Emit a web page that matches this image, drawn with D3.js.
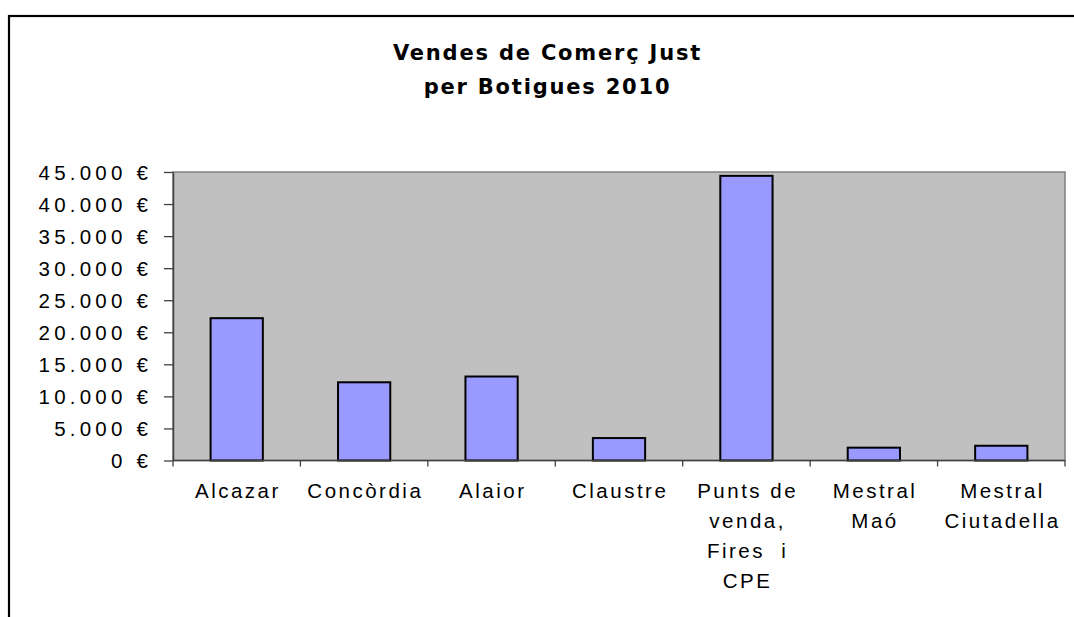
<!DOCTYPE html>
<html>
<head>
<meta charset="utf-8">
<script src="https://cdn.jsdelivr.net/npm/d3@7"></script>
<style>
  body { margin: 0; background: #fff; }
  svg { display: block; }
  .title { font-family: "Comic Sans MS", "DejaVu Sans", sans-serif; font-weight: bold; font-size: 21px; letter-spacing: 1.8px; }
  .ylab { font-family: "Liberation Sans", Arial, sans-serif; font-size: 20.5px; letter-spacing: 4.2px; }
  .xlab { font-family: "Liberation Sans", Arial, sans-serif; font-size: 20.5px; letter-spacing: 2.5px; white-space: pre; }
</style>
</head>
<body>
<svg id="chart" width="1074" height="617"></svg>
<script>
// data
var titleLines = ["Vendes de Comerç Just", "per Botigues 2010"];
var categories = ["Alcazar", "Concòrdia", "Alaior", "Claustre", "Punts de venda, Fires i CPE", "Mestral Maó", "Mestral Ciutadella"];
var labelLines = [["Alcazar"], ["Concòrdia"], ["Alaior"], ["Claustre"], ["Punts de", "venda,", "Fires  i", "CPE"], ["Mestral", "Maó"], ["Mestral", "Ciutadella"]];
var sales = [22200, 12200, 13100, 3500, 44400, 2000, 2300];
var yTicks = [0, 5000, 10000, 15000, 20000, 25000, 30000, 35000, 40000, 45000];

var svg = d3.select("#chart");
var plot = {left: 173, right: 1065, top: 172, bottom: 460.5};

// outer frame (runs off the right and bottom of the picture)
svg.append("rect")
    .attr("x", 9).attr("y", 16)
    .attr("width", 1200).attr("height", 800)
    .style("fill", "none")
    .style("stroke", "#000")
    .style("stroke-width", 2.2);

// title
svg.append("g").selectAll("text")
    .data(titleLines).enter()
    .append("text")
    .attr("class", "title")
    .attr("x", 547.5)
    .attr("y", function(d, i) { return 60 + i * 34; })
    .style("text-anchor", "middle")
    .text(function(d) { return d; });

var y = d3.scaleLinear()
    .domain([0, 45000])
    .range([plot.bottom, plot.top]);

// outer band for axis ticks and labels, inner band for the bars
var xCat = d3.scaleBand()
    .domain(categories)
    .range([plot.left, plot.right])
    .padding(0);

var xBar = d3.scaleBand()
    .domain(categories)
    .range([plot.left, plot.right])
    .paddingInner(0.59)
    .paddingOuter(0.295);

// plot area
svg.append("rect")
    .attr("x", plot.left).attr("y", plot.top)
    .attr("width", plot.right - plot.left)
    .attr("height", plot.bottom - plot.top)
    .style("fill", "#c0c0c0")
    .style("stroke", "#808080")
    .style("stroke-width", 1.5);

// bars
svg.append("g").selectAll("rect")
    .data(sales).enter()
    .append("rect")
    .attr("x", function(d, i) { return xBar(categories[i]); })
    .attr("y", function(d) { return y(d); })
    .attr("width", xBar.bandwidth())
    .attr("height", function(d) { return y(0) - y(d); })
    .style("fill", "#9999ff")
    .style("stroke", "#000")
    .style("stroke-width", 2);

// y axis
var yAxis = svg.append("g")
    .attr("transform", "translate(" + plot.left + ",0)")
    .call(d3.axisLeft(y).tickValues(yTicks).tickSize(9).tickSizeOuter(0)
        .tickFormat(function(d) { return d3.format(",")(d).replace(/,/g, ".") + " €"; }));
yAxis.attr("font-size", null).attr("font-family", null);
yAxis.select(".domain").style("stroke", "#404040").style("stroke-width", 1.5);
yAxis.selectAll(".tick line").style("stroke", "#404040").style("stroke-width", 1.3);
yAxis.selectAll(".tick text")
    .attr("class", "ylab")
    .attr("x", -21)
    .attr("dy", "0.36em")
    .style("fill", "#000");

// x axis line and boundary ticks
var xg = svg.append("g");
xg.append("line")
    .attr("x1", plot.left).attr("x2", plot.right)
    .attr("y1", plot.bottom).attr("y2", plot.bottom)
    .style("stroke", "#404040").style("stroke-width", 1.5);
var bounds = categories.map(function(c) { return xCat(c); }).concat([plot.right]);
xg.selectAll("line.tick")
    .data(bounds).enter()
    .append("line")
    .attr("class", "tick")
    .attr("x1", function(d) { return d; }).attr("x2", function(d) { return d; })
    .attr("y1", plot.bottom).attr("y2", plot.bottom + 6)
    .style("stroke", "#404040").style("stroke-width", 1.3);

// category labels
var lab = svg.append("g").selectAll("text")
    .data(categories).enter()
    .append("text")
    .attr("class", "xlab")
    .attr("y", 498)
    .style("text-anchor", "middle");
lab.each(function(d, i) {
    d3.select(this).selectAll("tspan")
        .data(labelLines[i]).enter()
        .append("tspan")
        .attr("x", xCat(d) + xCat.bandwidth() / 2 + 1.2)
        .attr("dy", function(t, j) { return j === 0 ? 0 : 30; })
        .text(function(t) { return t; });
});
</script>
</body>
</html>
